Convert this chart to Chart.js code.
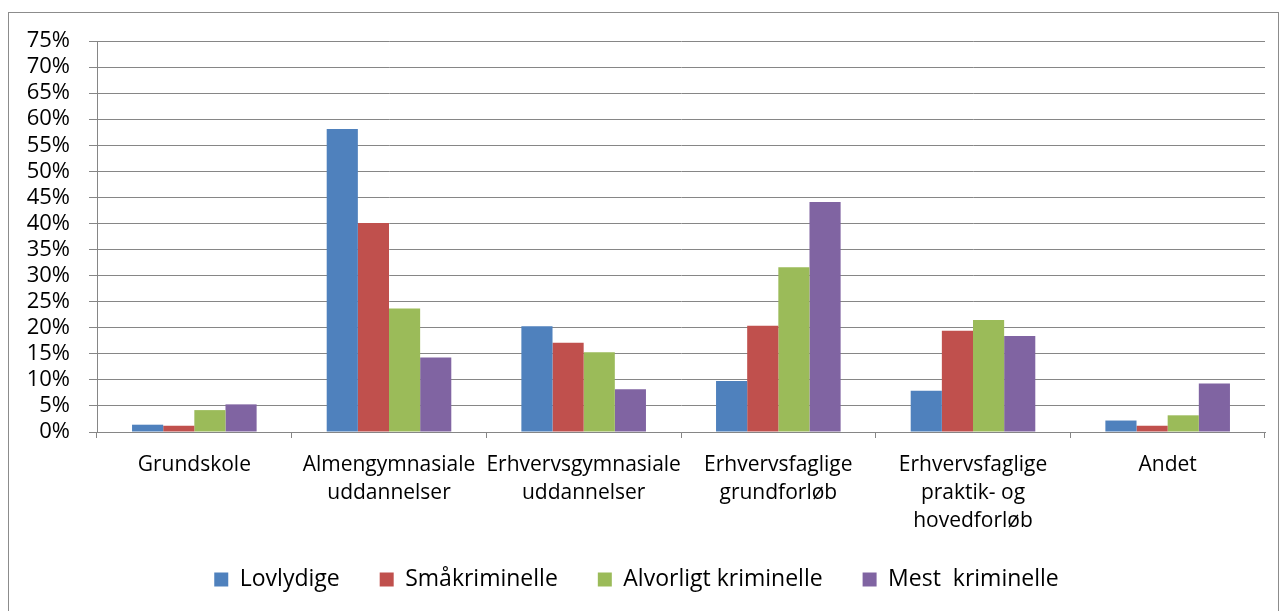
<!DOCTYPE html>
<html>
<head>
<meta charset="utf-8">
<script src="https://cdn.jsdelivr.net/npm/chart.js@4"></script>
<style>
    body { margin: 0; background: #fff; overflow: hidden; }
    #wrap { position: relative; width: 1282px; height: 611px; overflow: hidden; }
</style>
</head>
<body>
<div id="wrap"><canvas id="educationChart" width="1282" height="611"></canvas></div>
<script>
var categories = [
    "Grundskole",
    ["Almengymnasiale", "uddannelser"],
    ["Erhvervsgymnasiale", "uddannelser"],
    ["Erhvervsfaglige", "grundforløb"],
    ["Erhvervsfaglige", "praktik- og", "hovedforløb"],
    "Andet"
];
var seriesNames = ["Lovlydige", "Småkriminelle", "Alvorligt kriminelle", "Mest  kriminelle"];
var lovlydige = [1.4, 58.1, 20.3, 9.8, 7.9, 2.2];
var smaakriminelle = [1.2, 40.1, 17.1, 20.4, 19.4, 1.2];
var alvorligt = [4.2, 23.7, 15.3, 31.6, 21.5, 3.2];
var mestKriminelle = [5.3, 14.3, 8.2, 44.1, 18.4, 9.3];
var seriesColors = ["#4F81BD", "#C0504D", "#9BBB59", "#8064A2"];

var seriesValues = [lovlydige, smaakriminelle, alvorligt, mestKriminelle];
var datasets = [];
for (var i = 0; i < seriesNames.length; ++i) {
    datasets.push({
        label: seriesNames[i],
        data: seriesValues[i],
        backgroundColor: seriesColors[i],
        borderWidth: 0,
        categoryPercentage: 0.64,
        barPercentage: 1.0
    });
}

var gridGray = "#868686";

// outer frame round the figure (its bottom edge falls outside the page)
var framePlugin = {
    id: 'frame',
    beforeDraw: function(chart) {
        var ctx = chart.ctx;
        ctx.save();
        ctx.strokeStyle = "#8c8c8c";
        ctx.lineWidth = 1;
        ctx.strokeRect(8.5, 12.5, 1270, 650);
        ctx.restore();
    }
};

Chart.defaults.font.family = "'Open Sans', 'Liberation Sans', sans-serif";
Chart.defaults.color = "#000";

var ctx = document.getElementById("educationChart").getContext('2d');
var myChart = new Chart(ctx, {
    type: 'bar',
    data: {
        labels: categories,
        datasets: datasets
    },
    plugins: [framePlugin],
    options: {
        responsive: false,
        animation: false,
        layout: {
            padding: { left: 8, right: 17, top: 41, bottom: 10 }
        },
        plugins: {
            legend: {
                position: 'bottom',
                labels: {
                    boxWidth: 14,
                    boxHeight: 14,
                    padding: 40,
                    font: { size: 23 }
                }
            },
            tooltip: { enabled: false }
        },
        scales: {
            x: {
                grid: {
                    offset: true,
                    drawOnChartArea: false,
                    color: gridGray,
                    tickLength: 6
                },
                border: { color: gridGray },
                ticks: {
                    maxRotation: 0,
                    autoSkip: false,
                    padding: 13,
                    font: { size: 21, lineHeight: 1.33 }
                },
                afterFit: function(scale) { scale.height = 96; }
            },
            y: {
                min: 0,
                max: 75,
                ticks: {
                    stepSize: 5,
                    autoSkip: false,
                    padding: 19,
                    font: { size: 22 },
                    callback: function(value) { return value + "%"; }
                },
                grid: {
                    color: gridGray,
                    tickLength: 8
                },
                border: { color: gridGray },
                afterFit: function(scale) { scale.width = 89; }
            }
        }
    }
});
</script>
</body>
</html>
